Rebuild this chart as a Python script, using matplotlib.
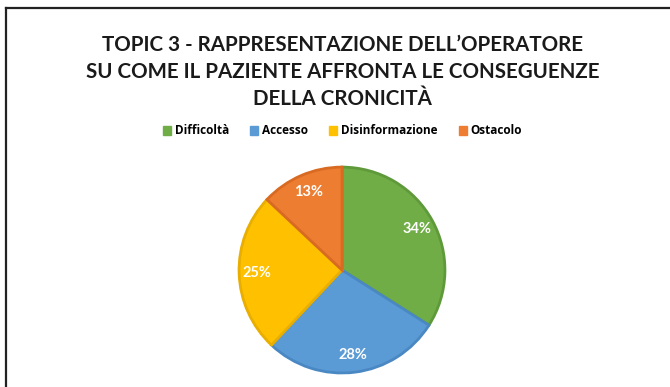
import matplotlib.pyplot as plt
from matplotlib.lines import Line2D
from matplotlib.patches import Patch

categories = ["Difficoltà", "Accesso", "Disinformazione", "Ostacolo"]
values = [34, 28, 25, 13]
colors = ["#70ad47", "#5b9bd5", "#ffc000", "#ed7d31"]
edges = ["#5f9a3a", "#4a88c4", "#e8ae00", "#d96a22"]

title_lines = [
    "TOPIC 3 - RAPPRESENTAZIONE DELL\u2019OPERATORE",
    "SU COME IL PAZIENTE AFFRONTA LE CONSEGUENZE",
    "DELLA CRONICITÀ",
]

fig = plt.figure(figsize=(6.7, 3.87), dpi=100)
fig.patch.set_facecolor("white")

# frame: top and left border only
fig.add_artist(Line2D([6 / 670, 1.0], [1 - 8 / 387, 1 - 8 / 387],
                      color="#222222", lw=1.6, transform=fig.transFigure))
fig.add_artist(Line2D([6 / 670, 6 / 670], [0.0, 1 - 8 / 387],
                      color="#222222", lw=1.6, transform=fig.transFigure))

# title
for i, line in enumerate(title_lines):
    fig.text(0.511, 1 - (45 + 27 * i) / 387, line, ha="center", va="center",
             fontsize=14.8, fontweight="bold", family="Lato", color="#1a1a1a")

# pie
ax = fig.add_axes([0.3567, 0.0362, 0.3075, 0.532])
wedges, texts, autotexts = ax.pie(
    values, colors=colors, startangle=90, counterclock=False,
    autopct="%d%%", pctdistance=0.83,
    textprops=dict(color="white", fontsize=10.5, fontweight="bold", family="Lato"),
)
for w, ec in zip(wedges, edges):
    w.set_edgecolor(ec)
    w.set_linewidth(2)
ax.set_xlim(-1.0, 1.0)
ax.set_ylim(-1.0, 1.0)
ax.set_aspect("equal")

# legend
handles = [Patch(facecolor=c, edgecolor=c) for c in colors]
fig.legend(handles, categories, loc="center", bbox_to_anchor=(0.511, 1 - 131 / 387),
           ncol=4, frameon=False, handlelength=0.7, handleheight=0.7,
           handletextpad=0.3, columnspacing=1.8,
           prop=dict(size=8.5, weight="bold", family="Open Sans"))

fig.savefig("out.png", dpi=100, facecolor="white")
